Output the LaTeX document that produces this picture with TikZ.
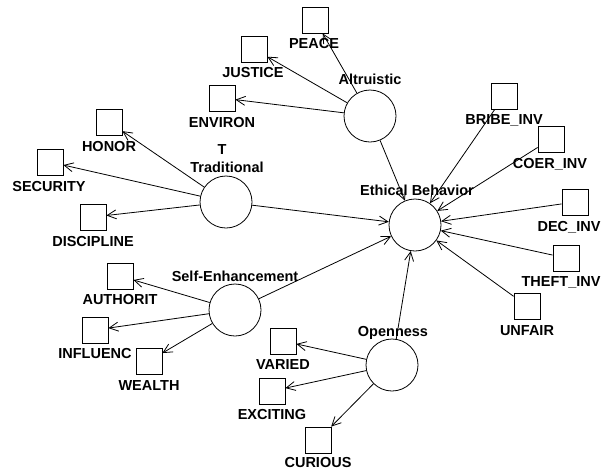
\documentclass[tikz,border=0pt]{standalone}
\usepackage{fontspec}
\setmainfont{Liberation Sans}
\usetikzlibrary{arrows.meta}
\begin{document}
\begin{tikzpicture}[x=1pt,y=-1pt,
  latent/.style={draw,circle,minimum size=52pt,inner sep=0pt,line width=0.8pt},
  indicator/.style={draw,rectangle,minimum size=26pt,inner sep=0pt,line width=0.8pt},
  lbl/.style={anchor=base,inner sep=0pt,font=\bfseries\fontsize{14.5}{16}\selectfont},
  link/.style={line width=0.8pt,-{Straight Barb[length=9pt,width=9pt]}}]
\useasboundingbox (0,0) rectangle (602,472);

% latent constructs
\node[latent] (alt)  at (370,116) {};
\node[latent] (trad) at (226,202) {};
\node[latent] (self) at (235,310) {};
\node[latent] (open) at (392,365) {};
\node[latent] (eth)  at (415,225) {};

% observed indicators
\node[indicator] (peace)      at (315,20)  {};
\node[indicator] (justice)    at (254,49)  {};
\node[indicator] (environ)    at (222,98)  {};
\node[indicator] (honor)      at (109,122) {};
\node[indicator] (security)   at (50,162)  {};
\node[indicator] (discipline) at (93,217)  {};
\node[indicator] (bribe)      at (504,96)  {};
\node[indicator] (coer)       at (551,139) {};
\node[indicator] (dec)        at (575,202) {};
\node[indicator] (theft)      at (566,258) {};
\node[indicator] (unfair)     at (527,306) {};
\node[indicator] (authorit)   at (120,276) {};
\node[indicator] (influenc)   at (95,330)  {};
\node[indicator] (wealth)     at (149,361) {};
\node[indicator] (varied)     at (283,341) {};
\node[indicator] (exciting)   at (272,391) {};
\node[indicator] (curious)    at (318,440) {};

% names
\node[lbl] (peace-l)      at (314,48)  {PEACE};
\node[lbl] (justice-l)    at (253,77)  {JUSTICE};
\node[lbl] (environ-l)    at (222,127) {ENVIRON};
\node[lbl] (honor-l)      at (109,151) {HONOR};
\node[lbl] (security-l)   at (49,191)  {SECURITY};
\node[lbl] (discipline-l) at (93,246)  {DISCIPLINE};
\node[lbl] (trad-t)       at (222,154) {T};
\node[lbl] (trad-l)       at (227,172) {Traditional};
\node[lbl] (alt-l)        at (370,84)  {Altruistic};
\node[lbl] (bribe-l)      at (504,124) {BRIBE\_INV};
\node[lbl] (coer-l)       at (550,168) {COER\_INV};
\node[lbl] (eth-l)        at (417,195) {Ethical Behavior};
\node[lbl] (dec-l)        at (569,231) {DEC\_INV};
\node[lbl] (theft-l)      at (561,286) {THEFT\_INV};
\node[lbl] (unfair-l)     at (527,335) {UNFAIR};
\node[lbl] (open-l)       at (393,336) {Openness};
\node[lbl] (curious-l)    at (318,467) {CURIOUS};
\node[lbl] (self-l)       at (235,281) {Self-Enhancement};
\node[lbl] (authorit-l)   at (120,304) {AUTHORIT};
\node[lbl] (influenc-l)   at (95,358)  {INFLUENC};
\node[lbl] (wealth-l)     at (149,390) {WEALTH};
\node[lbl] (varied-l)     at (283,369) {VARIED};
\node[lbl] (exciting-l)   at (272,419) {EXCITING};

% measurement paths
\draw[link] (alt) -- (peace);
\draw[link] (alt) -- (justice);
\draw[link] (alt) -- (environ);
\draw[link] (trad) -- (honor);
\draw[link] (trad) -- (security);
\draw[link] (trad) -- (discipline);
\draw[link] (self) -- (authorit);
\draw[link] (self) -- (influenc);
\draw[link] (self) -- (wealth);
\draw[link] (open) -- (varied);
\draw[link] (open) -- (exciting);
\draw[link] (open) -- (curious);

% structural paths and outcome indicators
\draw[link] (alt) -- (eth);
\draw[link] (trad) -- (eth);
\draw[link] (self) -- (eth);
\draw[link] (open) -- (eth);
\draw[link] (bribe) -- (eth);
\draw[link] (coer) -- (eth);
\draw[link] (dec) -- (eth);
\draw[link] (theft) -- (eth);
\draw[link] (unfair) -- (eth);
\end{tikzpicture}
\end{document}
